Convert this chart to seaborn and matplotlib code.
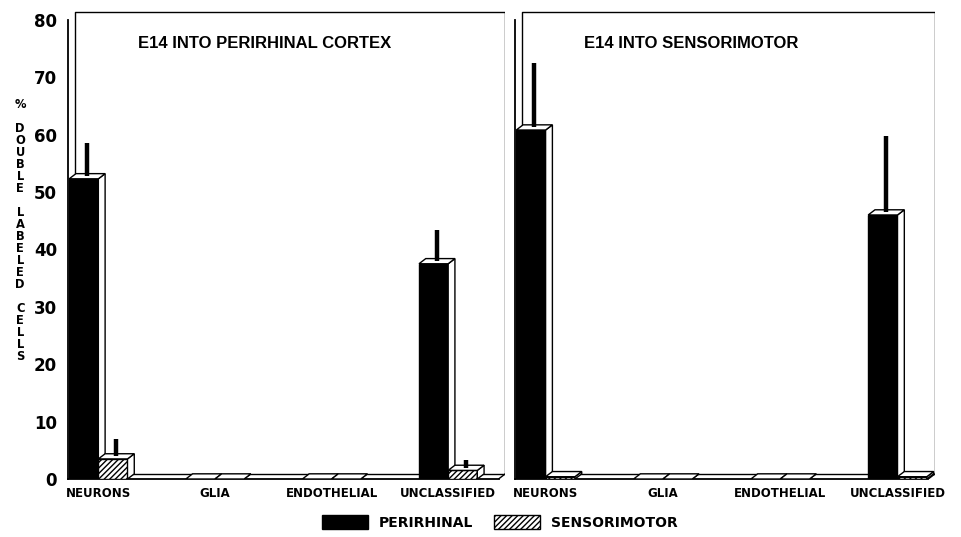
import numpy as np
import pandas as pd
import matplotlib
matplotlib.use('Agg')
import matplotlib.pyplot as plt
from matplotlib.patches import Polygon, Patch
import seaborn as sns

# Data
cell_types = ['NEURONS', 'GLIA', 'ENDOTHELIAL', 'UNCLASSIFIED']
sources = ['PERIRHINAL', 'SENSORIMOTOR']

perirhinal_ctx_perirhinal = [52.3, 0, 0, 37.5]
perirhinal_ctx_perirhinal_err = [6.3, 0, 0, 5.9]
perirhinal_ctx_sensorimotor = [3.5, 0, 0, 1.5]
perirhinal_ctx_sensorimotor_err = [3.4, 0, 0, 1.8]

sensorimotor_ctx_perirhinal = [60.8, 0, 0, 46.0]
sensorimotor_ctx_perirhinal_err = [11.6, 0, 0, 13.8]
sensorimotor_ctx_sensorimotor = [0.4, 0, 0, 0.4]
sensorimotor_ctx_sensorimotor_err = [0, 0, 0, 0]

panel_titles = ['E14 INTO PERIRHINAL CORTEX', 'E14 INTO SENSORIMOTOR']
y_ticks = [0, 10, 20, 30, 40, 50, 60, 70, 80]


def make_frame(peri, peri_err, sens, sens_err):
    rows = []
    for i, c in enumerate(cell_types):
        rows.append({'cell': c, 'source': 'PERIRHINAL', 'pct': peri[i], 'err': peri_err[i]})
        rows.append({'cell': c, 'source': 'SENSORIMOTOR', 'pct': sens[i], 'err': sens_err[i]})
    return pd.DataFrame(rows)


def draw_panel(ax, df, xlim, title, title_x, show_labels):
    dx = 0.058  # depth offset in x (data units)
    dy = 0.9    # depth offset in y (data units)

    sns.barplot(data=df, x='cell', y='pct', hue='source', order=cell_types,
                hue_order=sources, palette=['black', 'white'], width=0.5,
                edgecolor='black', linewidth=1, legend=False, ax=ax)

    x0, x1 = xlim
    ax.set_xlim(x0, x1)
    ax.set_ylim(0, 82)

    # fake 3D: top and side faces of every bar
    for p in ax.patches:
        x, w, h = p.get_x(), p.get_width(), p.get_height()
        z = 3 + x
        p.set_zorder(z)
        if p.get_facecolor()[0] > 0.5:
            p.set_hatch('//////')
        top = Polygon([(x, h), (x + dx, h + dy), (x + w + dx, h + dy), (x + w, h)],
                      closed=True, facecolor='white', edgecolor='black', lw=1, zorder=z)
        side = Polygon([(x + w, 0), (x + w + dx, dy), (x + w + dx, h + dy), (x + w, h)],
                       closed=True, facecolor='white', edgecolor='black', lw=1, zorder=z)
        ax.add_patch(side)
        ax.add_patch(top)

    # error bars (upper only) from the centre of the top face
    for src_i, src in enumerate(sources):
        sub = df[df['source'] == src]
        for i, c in enumerate(cell_types):
            row = sub[sub['cell'] == c].iloc[0]
            if row['err'] <= 0:
                continue
            xc = i - 0.125 + src_i * 0.25 + dx / 2
            yb = row['pct'] + dy / 2
            ax.errorbar([xc], [yb], yerr=[[0], [row['err'] - dy / 2]], fmt='none',
                        ecolor='black', elinewidth=3.2, capsize=0, zorder=20)

    # back wall / floor
    top_y = 81.4
    ax.plot([x0 + dx, x0 + dx, x1, x1], [dy, top_y, top_y, dy], color='black', lw=1, zorder=1)
    ax.plot([x0 + dx, x1], [dy, dy], color='black', lw=1, zorder=1)
    ax.plot([x1 - dx, x1], [0, dy], color='black', lw=1, zorder=1)

    for s in ['top', 'right']:
        ax.spines[s].set_visible(False)
    ax.spines['left'].set_bounds(0, 80)
    ax.spines['bottom'].set_bounds(x0, x1 - dx)
    for s in ['left', 'bottom']:
        ax.spines[s].set_linewidth(1.3)
        ax.spines[s].set_color('black')

    ax.set_yticks(y_ticks)
    ax.tick_params(axis='y', direction='out', length=5, width=1.2, pad=3,
                   labelsize=12, labelleft=show_labels, colors='black')
    for lbl in ax.get_yticklabels():
        lbl.set_fontweight('bold')
    ax.set_xticks(range(len(cell_types)))
    ax.set_xticklabels(cell_types, fontsize=8.5, fontweight='bold')
    ax.tick_params(axis='x', length=0, pad=6, colors='black')
    ax.set_xlabel('')
    ax.set_ylabel('')

    ax.text(title_x, 0.925, title, transform=ax.transAxes, ha='center', va='center',
            fontsize=12, fontweight='bold', family='Liberation Sans', color='black')


sns.set_theme(style='white')
plt.rcParams['font.family'] = ['DejaVu Sans']
plt.rcParams['text.color'] = 'black'
plt.rcParams['axes.edgecolor'] = 'black'

fig = plt.figure(figsize=(9.61, 5.37), dpi=100)
ax1 = fig.add_axes([0.0708, 0.108, 0.455, 0.8765])
ax2 = fig.add_axes([0.536, 0.108, 0.437, 0.8765])

df1 = make_frame(perirhinal_ctx_perirhinal, perirhinal_ctx_perirhinal_err,
                 perirhinal_ctx_sensorimotor, perirhinal_ctx_sensorimotor_err)
df2 = make_frame(sensorimotor_ctx_perirhinal, sensorimotor_ctx_perirhinal_err,
                 sensorimotor_ctx_sensorimotor, sensorimotor_ctx_sensorimotor_err)

draw_panel(ax1, df1, (-0.26, 3.49), panel_titles[0], 0.45, True)
draw_panel(ax2, df2, (-0.26, 3.32), panel_titles[1], 0.42, False)

# stacked vertical y label
ylab = '\n'.join(list('% DOUBLE LABELED CELLS'))
fig.text(0.021, 0.57, ylab, ha='center', va='center', fontsize=8.3,
         fontweight='bold', linespacing=0.9, color='black')

handles = [Patch(facecolor='black', edgecolor='black', label='PERIRHINAL'),
           Patch(facecolor='white', edgecolor='black', hatch='//////', label='SENSORIMOTOR')]
leg = fig.legend(handles=handles, loc='lower center', bbox_to_anchor=(0.52, -0.01), ncol=2,
                 frameon=False, prop={'weight': 'bold', 'size': 10}, handlelength=3.3,
                 handleheight=1.1, columnspacing=1.5)
for t in leg.get_texts():
    t.set_color('black')

fig.savefig('out.png', dpi=100)
